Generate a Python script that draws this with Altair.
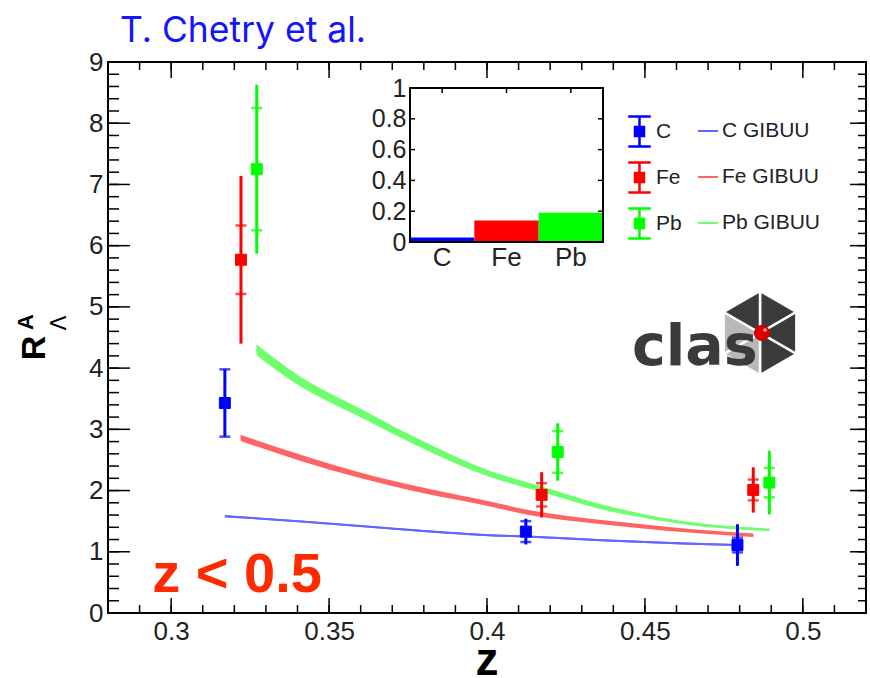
import altair as alt
import pandas as pd

# ---------------- data ----------------
species = ["C", "Fe", "Pb"]
colors = ["#0000ff", "#ff0000", "#00ff00"]
gibuu_names = ["C GIBUU", "Fe GIBUU", "Pb GIBUU"]
band_colors = ["#6464ff", "#ff6464", "#6eff6e"]

z_C = [0.317, 0.4123, 0.4793]
R_C = [3.43, 1.33, 1.11]
stat_C = [0.55, 0.17, 0.12]
tot_C = [0.55, 0.21, 0.34]

z_Fe = [0.3221, 0.4173, 0.4843]
R_Fe = [5.77, 1.93, 2.01]
stat_Fe = [0.56, 0.19, 0.17]
tot_Fe = [1.37, 0.37, 0.37]

z_Pb = [0.3271, 0.4224, 0.4894]
R_Pb = [7.25, 2.63, 2.13]
stat_Pb = [1.00, 0.34, 0.24]
tot_Pb = [1.38, 0.47, 0.52]

# GiBUU bands: z, central value, half width
gz_C = [0.317, 0.34, 0.36, 0.38, 0.401, 0.4123, 0.44, 0.46, 0.480]
gR_C = [1.58, 1.50, 1.42, 1.34, 1.27, 1.25, 1.18, 1.14, 1.11]
gw_C = [0.015] * 9

gz_Fe = [0.322, 0.34, 0.3598, 0.38, 0.401, 0.4123, 0.43, 0.4485, 0.465, 0.4843]
gR_Fe = [2.86, 2.55, 2.25, 2.00, 1.78, 1.65, 1.52, 1.42, 1.34, 1.27]
gw_Fe = [0.05, 0.05, 0.045, 0.045, 0.04, 0.04, 0.035, 0.035, 0.03, 0.03]

gz_Pb = [0.327, 0.3397, 0.3598, 0.38, 0.401, 0.4168, 0.4358, 0.45, 0.4674, 0.4894]
gR_Pb = [4.30, 3.82, 3.27, 2.74, 2.27, 2.03, 1.74, 1.58, 1.44, 1.36]
gw_Pb = [0.09, 0.08, 0.07, 0.06, 0.05, 0.045, 0.04, 0.03, 0.025, 0.02]

# inset
inset_vals = [0.03, 0.14, 0.19]

x_major = [0.3, 0.35, 0.4, 0.45, 0.5]
x_minor = [round(0.28 + 0.01 * i, 2) for i in range(25)]
y_major = list(range(10))
y_minor = [round(0.2 * i, 1) for i in range(46)]
inset_ticks = [0, 0.2, 0.4, 0.6, 0.8, 1]
inset_inner = [0.2, 0.4, 0.6, 0.8]

# ---------------- tables ----------------
pts = []
ticks = []
for sp, col, zs, Rs, ss, ts in [
    ("C", colors[0], z_C, R_C, stat_C, tot_C),
    ("Fe", colors[1], z_Fe, R_Fe, stat_Fe, tot_Fe),
    ("Pb", colors[2], z_Pb, R_Pb, stat_Pb, tot_Pb),
]:
    for z, r, s, t in zip(zs, Rs, ss, ts):
        pts.append(dict(sp=sp, col=col, z=z, R=r, lo=r - t, hi=r + t))
        ticks.append(dict(col=col, z=z, y=r - s))
        ticks.append(dict(col=col, z=z, y=r + s))
pts = pd.DataFrame(pts)
ticks = pd.DataFrame(ticks)

bands = []
for name, col, zs, Rs, ws in [
    ("C GIBUU", band_colors[0], gz_C, gR_C, gw_C),
    ("Fe GIBUU", band_colors[1], gz_Fe, gR_Fe, gw_Fe),
    ("Pb GIBUU", band_colors[2], gz_Pb, gR_Pb, gw_Pb),
]:
    for z, r, w in zip(zs, Rs, ws):
        bands.append(dict(name=name, col=col, z=z, mid=r, lo=r - w, hi=r + w))
bands = pd.DataFrame(bands)

inset = pd.DataFrame(dict(sp=species, v=inset_vals, col=colors))

W, H = 758, 551
FONT = "Liberation Sans"

xs = alt.Scale(domain=[0.28, 0.52], nice=False, zero=False)
ys = alt.Scale(domain=[0, 9], nice=False, zero=False)

# --- bands
band_area = alt.Chart(bands).mark_area(opacity=1, interpolate="monotone").encode(
    x=alt.X("z:Q", scale=xs, axis=None),
    y=alt.Y("lo:Q", scale=ys, axis=None),
    y2="hi:Q",
    color=alt.Color("col:N", scale=None),
    detail="name:N",
)
band_line = alt.Chart(bands).mark_line(strokeWidth=2, interpolate="monotone").encode(
    x=alt.X("z:Q", scale=xs, axis=None),
    y=alt.Y("mid:Q", scale=ys, axis=None),
    color=alt.Color("name:N", scale=alt.Scale(domain=gibuu_names, range=band_colors),
                    legend=alt.Legend(orient="none", legendX=589, legendY=58, title=None,
                                      symbolType="stroke", symbolSize=400,
                                      symbolStrokeWidth=2, labelFont=FONT,
                                      labelFontSize=21, labelColor="#222222",
                                      labelOffset=3, rowPadding=25, padding=0)),
)

# --- total error bars (carries labelled axes)
tot_rule = alt.Chart(pts).mark_rule(strokeWidth=3).encode(
    x=alt.X("z:Q", scale=xs, title=None,
            axis=alt.Axis(orient="bottom", values=x_major, ticks=False, domain=False,
                          grid=False, labelFont=FONT, labelFontSize=26, labelPadding=5,
                          labelColor="#222222", labelOverlap=False, labelFlush=False,
                          labelExpr="format(datum.value, '~g')")),
    y=alt.Y("lo:Q", scale=ys, title=None,
            axis=alt.Axis(orient="left", values=y_major, ticks=False, domain=False,
                          grid=False, labelFont=FONT, labelFontSize=26, labelPadding=5,
                          labelColor="#222222", labelOverlap=False, labelFlush=False)),
    y2="hi:Q",
    color=alt.Color("col:N", scale=None),
)

stat_tick = alt.Chart(ticks).mark_tick(orient="horizontal", size=11, thickness=2.5).encode(
    x=alt.X("z:Q", scale=xs, axis=None),
    y=alt.Y("y:Q", scale=ys, axis=None),
    color=alt.Color("col:N", scale=None),
)

glyph = "M-0.75,-1H0.75M0,-1V1M-0.75,1H0.75M-0.3,-0.3H0.3V0.3H-0.3Z"
leg1 = alt.Legend(orient="none", legendX=515, legendY=53, title=None,
                  symbolType=glyph, symbolSize=900, symbolStrokeWidth=2.5,
                  labelFont=FONT, labelFontSize=21, labelColor="#222222",
                  labelOffset=0, rowPadding=5, padding=0)
sp_scale = alt.Scale(domain=species, range=colors)
markers = alt.Chart(pts).mark_square(size=120, opacity=1, filled=True, strokeWidth=1).encode(
    x=alt.X("z:Q", scale=xs, axis=None),
    y=alt.Y("R:Q", scale=ys, axis=None),
    fill=alt.Fill("sp:N", scale=sp_scale, legend=leg1),
    stroke=alt.Stroke("sp:N", scale=sp_scale, legend=leg1),
)

# --- frame ticks (inward)
xmaj_df = pd.DataFrame({"v": x_major})
xmin_df = pd.DataFrame({"v": x_minor})
ymaj_df = pd.DataFrame({"v": y_major})
ymin_df = pd.DataFrame({"v": y_minor})


def xticks(df, y0, y1):
    return alt.Chart(df).mark_rule(color="black", strokeWidth=1.5).encode(
        x=alt.X("v:Q", scale=xs, axis=None), y=alt.value(y0), y2=alt.value(y1))


def yticks(df, x0, x1):
    return alt.Chart(df).mark_rule(color="black", strokeWidth=1.5).encode(
        y=alt.Y("v:Q", scale=ys, axis=None), x=alt.value(x0), x2=alt.value(x1))


frame_ticks = [
    xticks(xmaj_df, H, H - 15), xticks(xmin_df, H, H - 8),
    xticks(xmaj_df, 0, 16), xticks(xmin_df, 0, 8),
    yticks(ymaj_df, 0, 22), yticks(ymin_df, 0, 11),
    yticks(ymaj_df, W, W - 16), yticks(ymin_df, W, W - 8),
]

# --- inset
ixs = alt.Scale(domain=species, range=[302, 495], paddingInner=0, paddingOuter=0)
iys = alt.Scale(domain=[0, 1], range=[180, 26], nice=False, zero=False)
inset_lab = "datum.value == 0 ? '0' : datum.value == 1 ? '1' : format(datum.value, '.1f')"

inset_bars = alt.Chart(inset).mark_bar(opacity=1).encode(
    x=alt.X("sp:N", scale=ixs, sort=species, title=None,
            axis=alt.Axis(orient="bottom", offset=-(H - 180), ticks=False, domain=False,
                          labelAngle=0, labelFont=FONT, labelFontSize=26,
                          labelColor="#222222", labelPadding=2)),
    y=alt.Y("v:Q", scale=iys, title=None,
            axis=alt.Axis(orient="left", offset=-302, values=inset_ticks, ticks=False,
                          domain=False, grid=False, labelFont=FONT, labelFontSize=25,
                          labelColor="#222222", labelPadding=4, labelExpr=inset_lab,
                          labelOverlap=False, labelFlush=False)),
    color=alt.Color("col:N", scale=None),
)
inset_top = alt.Chart(inset).mark_rule(color="black", strokeWidth=1.5).encode(
    x=alt.X("sp:N", scale=ixs, sort=species, axis=None, bandPosition=0.5),
    y=alt.value(26), y2=alt.value(31),
)
iin_df = pd.DataFrame({"v": inset_inner})
inset_right = alt.Chart(iin_df).mark_rule(color="black", strokeWidth=1.5).encode(
    y=alt.Y("v:Q", scale=iys, axis=None), x=alt.value(495), x2=alt.value(490))
inset_left = alt.Chart(iin_df).mark_rule(color="black", strokeWidth=1.5).encode(
    y=alt.Y("v:Q", scale=iys, axis=None), x=alt.value(302), x2=alt.value(307))
one = pd.DataFrame({"a": [0]})
inset_frame = alt.Chart(one).mark_rect(fill=None, stroke="black", strokeWidth=2).encode(
    x=alt.value(302), x2=alt.value(495), y=alt.value(26), y2=alt.value(180)
)

# --- CLAS logo
hexv = [(0, -1), (0.866, -0.5), (0.866, 0.5), (0, 1), (-0.866, 0.5), (-0.866, -0.5)]
tri_paths = []
for i in range(6):
    a, b = hexv[i], hexv[(i + 1) % 6]
    tri_paths.append(f"M0,0L{a[0]},{a[1]}L{b[0]},{b[1]}Z")
tri_cols = ["#3b3b3b", "#3b3b3b", "#3b3b3b", "#b8b8b8", "#b8b8b8", "#3b3b3b"]
logo_df = pd.DataFrame(dict(path=tri_paths, col=tri_cols))
logo_hex = alt.Chart(logo_df).mark_point(filled=True, opacity=1, stroke="white",
                                         strokeWidth=2.5, strokeOpacity=1).encode(
    x=alt.value(652), y=alt.value(271),
    shape=alt.Shape("path:N", scale=None),
    fill=alt.Fill("col:N", scale=None),
    size=alt.value(7056),
)
logo_text = alt.Chart(one).mark_text(text="clas", font="DejaVu Sans", fontSize=57,
                                     fontWeight="bold", color="#3b3b3b", align="left",
                                     baseline="alphabetic").encode(
    x=alt.value(524), y=alt.value(303)
)
logo_ball = alt.Chart(one).mark_circle(size=230, color="#dd0000", opacity=1,
                                       stroke="#cc0000", strokeWidth=1).encode(
    x=alt.value(654), y=alt.value(271)
)
logo_hl = alt.Chart(one).mark_circle(size=12, color="#ffb0b0", opacity=1).encode(
    x=alt.value(657), y=alt.value(268)
)

# --- annotations
ztext = alt.Chart(one).mark_text(text="z < 0.5", font=FONT, fontSize=56, fontWeight="bold",
                                 color="#ff2a00", align="center", baseline="middle").encode(
    x=alt.value(129), y=alt.value(513)
)
xtitle = alt.Chart(one).mark_text(text="z", font=FONT, fontSize=46, fontWeight="bold",
                                  color="black", align="center",
                                  baseline="alphabetic").encode(
    x=alt.value(379), y=alt.value(613)
)
title = alt.Chart(one).mark_text(text="T. Chetry et al.", font="Inter", fontSize=35.5,
                                 color="#1414ff", align="left",
                                 baseline="alphabetic").encode(
    x=alt.value(12), y=alt.value(-20)
)
yR = alt.Chart(one).mark_text(text="R", font=FONT, fontSize=34, fontWeight="bold",
                              color="black", angle=270, align="center",
                              baseline="middle").encode(x=alt.value(-73), y=alt.value(286))
yA = alt.Chart(one).mark_text(text="A", font=FONT, fontSize=22, fontWeight="bold",
                              color="black", angle=270, align="center",
                              baseline="middle").encode(x=alt.value(-82), y=alt.value(260))
yL = alt.Chart(one).mark_text(text="Λ", font="DejaVu Sans", fontSize=22,
                              color="black", angle=270, align="center",
                              baseline="middle").encode(x=alt.value(-49), y=alt.value(261))

chart = alt.layer(
    band_area, band_line, tot_rule, stat_tick, markers, *frame_ticks,
    inset_bars, inset_top, inset_right, inset_left, inset_frame,
    logo_hex, logo_text, logo_ball, logo_hl,
    ztext, xtitle, title, yR, yA, yL,
).resolve_scale(
    x="independent", y="independent", color="independent",
    fill="independent", stroke="independent", shape="independent",
).properties(
    width=W, height=H,
    autosize=alt.AutoSizeParams(type="none"),
    padding={"left": 108, "top": 62, "right": 4, "bottom": 65},
).configure_view(stroke="black", strokeWidth=2)

chart.save("out.html", embed_options={"renderer": "svg", "actions": False})
